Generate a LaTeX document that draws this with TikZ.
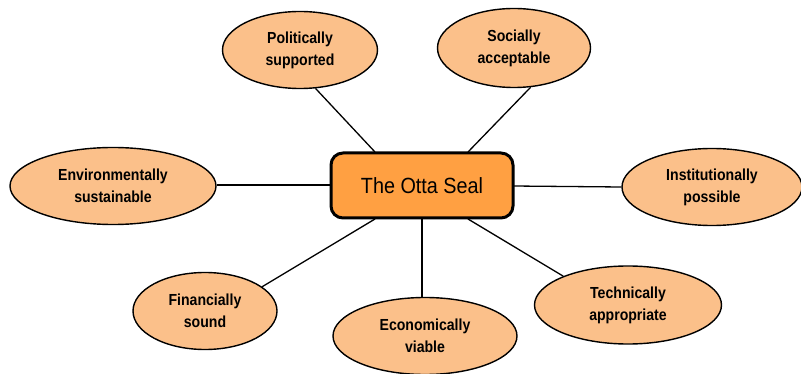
\documentclass[tikz,border=0pt]{standalone}
\usepackage{fontspec}
\setmainfont{Liberation Sans}
\newfontfamily\elfont[FakeStretch=0.88]{Liberation Sans Bold}
\newfontfamily\ctrfont[FakeStretch=0.9]{Liberation Sans}
\usetikzlibrary{shapes.geometric}
\definecolor{elfill}{RGB}{251,192,138}
\definecolor{boxfill}{RGB}{255,160,66}
\tikzset{
  el/.style={ellipse, draw=black, line width=1.4pt, fill=elfill, inner sep=0pt,
    align=center, font=\elfont\fontsize{16}{22}\selectfont},
  ctr/.style={rectangle, rounded corners=12pt, draw=black, line width=3pt, fill=boxfill,
    minimum width=182pt, minimum height=65pt, font=\ctrfont\fontsize{22}{26}\selectfont},
  link/.style={line width=1.3pt, draw=black}
}
\begin{document}
\begin{tikzpicture}[x=1pt,y=-1pt]
\useasboundingbox (0,0) rectangle (801,374);
% connectors first (behind shapes)
\coordinate (cpos) at (422,185.5);
\coordinate (pA) at (375,152);
\coordinate (sA) at (468,152);
\coordinate (fA) at (375,219);
\coordinate (tA) at (468,219);
\coordinate (eA) at (422,219);
\coordinate (wA) at (331,185);
\coordinate (rA) at (513,186);
\node[el, minimum width=155pt, minimum height=77pt] (pol) at (300,50) {Politically\\supported};
\node[el, minimum width=153pt, minimum height=79pt] (soc) at (514,48) {Socially\\acceptable};
\node[el, minimum width=206pt, minimum height=77pt] (env) at (113,186) {Environmentally\\sustainable};
\node[el, minimum width=180pt, minimum height=77pt] (ins) at (712,187) {Institutionally\\possible};
\node[el, minimum width=144pt, minimum height=77pt] (fin) at (205,311) {Financially\\sound};
\node[el, minimum width=184pt, minimum height=77pt] (eco) at (425,336) {Economically\\viable};
\node[el, minimum width=187pt, minimum height=78pt] (tec) at (628,305) {Technically\\appropriate};
\draw[link] (pA) -- (pol.-68);
\draw[link] (sA) -- (soc.-67);
\draw[link] (fA) -- (fin.23);
\draw[link] (tA) -- (tec.156);
\draw[link] (eA) -- (eco.north -| eA);
\draw[link] (wA) -- (env.east |- wA);
\draw[link] (rA) -- (ins.west);
\node[ctr] (c) at (cpos) {The Otta Seal};
\end{tikzpicture}
\end{document}
